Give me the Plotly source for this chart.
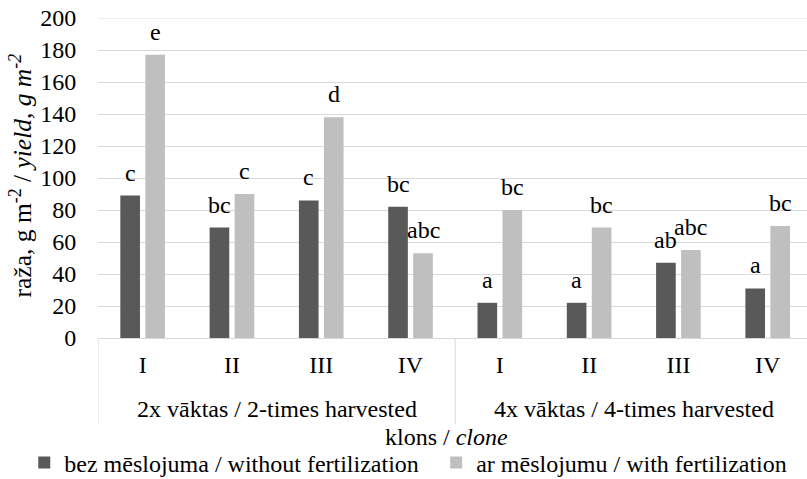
import plotly.graph_objects as go

clones = ["I", "II", "III", "IV", "I", "II", "III", "IV"]
groups = ["2x vāktas / 2-times harvested", "4x vāktas / 4-times harvested"]
without_fert = [89, 69, 86, 82, 22, 22, 47, 31]
with_fert = [177, 90, 138, 53, 80, 69, 55, 70]
letters_without = ["c", "bc", "c", "bc", "a", "a", "ab", "a"]
letters_with = ["e", "c", "d", "abc", "bc", "bc", "abc", "bc"]
series_names = ["bez mēslojuma / without fertilization", "ar mēslojumu / with fertilization"]
y_max = 200

FONT = "'Liberation Serif', 'Times New Roman', Times, serif"
FS = 24
xpos = list(range(len(clones)))

fig = go.Figure()
fig.add_trace(go.Bar(x=xpos, y=without_fert, name=series_names[0],
                     marker=dict(color="#595959", line=dict(width=0)),
                     width=0.22, offset=-0.25, legend="legend"))
fig.add_trace(go.Bar(x=xpos, y=with_fert, name=series_names[1],
                     marker=dict(color="#BFBFBF", line=dict(width=0)),
                     width=0.22, offset=0.03, legend="legend2"))

ann = []
for i in xpos:
    ann.append(dict(x=i - 0.14, y=without_fert[i], xref="x", yref="y", text=letters_without[i],
                    showarrow=False, yanchor="middle", yshift=23, font=dict(family=FONT, size=FS, color="black")))
    ann.append(dict(x=i + 0.14, y=with_fert[i], xref="x", yref="y", text=letters_with[i],
                    showarrow=False, yanchor="middle", yshift=23, font=dict(family=FONT, size=FS, color="black")))
for g, name in enumerate(groups):
    ann.append(dict(x=1.5 + 4 * g, y=-0.222, xref="x", yref="paper", text=name, showarrow=False,
                    yanchor="middle", font=dict(family=FONT, size=FS, color="black")))
ann.append(dict(x=0.491, y=-0.309, xref="paper", yref="paper", text="klons / <i>clone</i>", showarrow=False,
                yanchor="middle", font=dict(family=FONT, size=FS, color="black")))
ann.append(dict(x=-0.1086, y=0.508, xref="paper", yref="paper", textangle=-90,
                text="raža, g m<sup>-2</sup> / <i>yield, g m<sup>-2</sup></i>", showarrow=False,
                xanchor="center", yanchor="middle", font=dict(family=FONT, size=25.5, color="black")))

shapes = []
for xd in [-0.5, 3.5, 7.5]:
    shapes.append(dict(type="line", xref="x", yref="paper", x0=xd, x1=xd, y0=0, y1=-0.269,
                       line=dict(color="#D9D9D9", width=1)))
# top gridline (plotly skips the gridline lying on the plot edge)
shapes.append(dict(type="line", xref="paper", yref="y", x0=0, x1=1, y0=y_max, y1=y_max, layer="below",
                   line=dict(color="#D9D9D9", width=1)))

legend_common = dict(orientation="h", xanchor="left", y=-0.39, yanchor="middle",
                     font=dict(family=FONT, size=FS, color="black"), bgcolor="rgba(0,0,0,0)")

fig.update_layout(
    width=807, height=479,
    margin=dict(l=98, r=0, t=18, b=141, pad=0, autoexpand=False),
    paper_bgcolor="white", plot_bgcolor="white",
    barmode="overlay",
    font=dict(family=FONT, size=FS, color="black"),
    annotations=ann, shapes=shapes,
    showlegend=True,
    legend=dict(x=-0.104, **legend_common),
    legend2=dict(x=0.477, **legend_common),
    xaxis=dict(range=[-0.5, 7.44], tickvals=xpos, ticktext=clones, showgrid=False, zeroline=False,
               showline=True, linecolor="#D9D9D9", linewidth=1, ticks="outside", ticklen=5,
               tickcolor="rgba(0,0,0,0)", tickfont=dict(family=FONT, size=FS, color="black"), fixedrange=True),
    yaxis=dict(range=[0, y_max], dtick=20, showgrid=True, gridcolor="#D9D9D9", gridwidth=1, zeroline=False,
               showline=False, ticks="outside", ticklen=16, tickcolor="rgba(0,0,0,0)",
               tickfont=dict(family=FONT, size=FS, color="black"), fixedrange=True),
)

# remove the browser's default 8 px page margin so the figure sits at the window's corner
fig.write_html("out.html", config={"displayModeBar": False},
               post_script="document.body.style.margin='0';")
